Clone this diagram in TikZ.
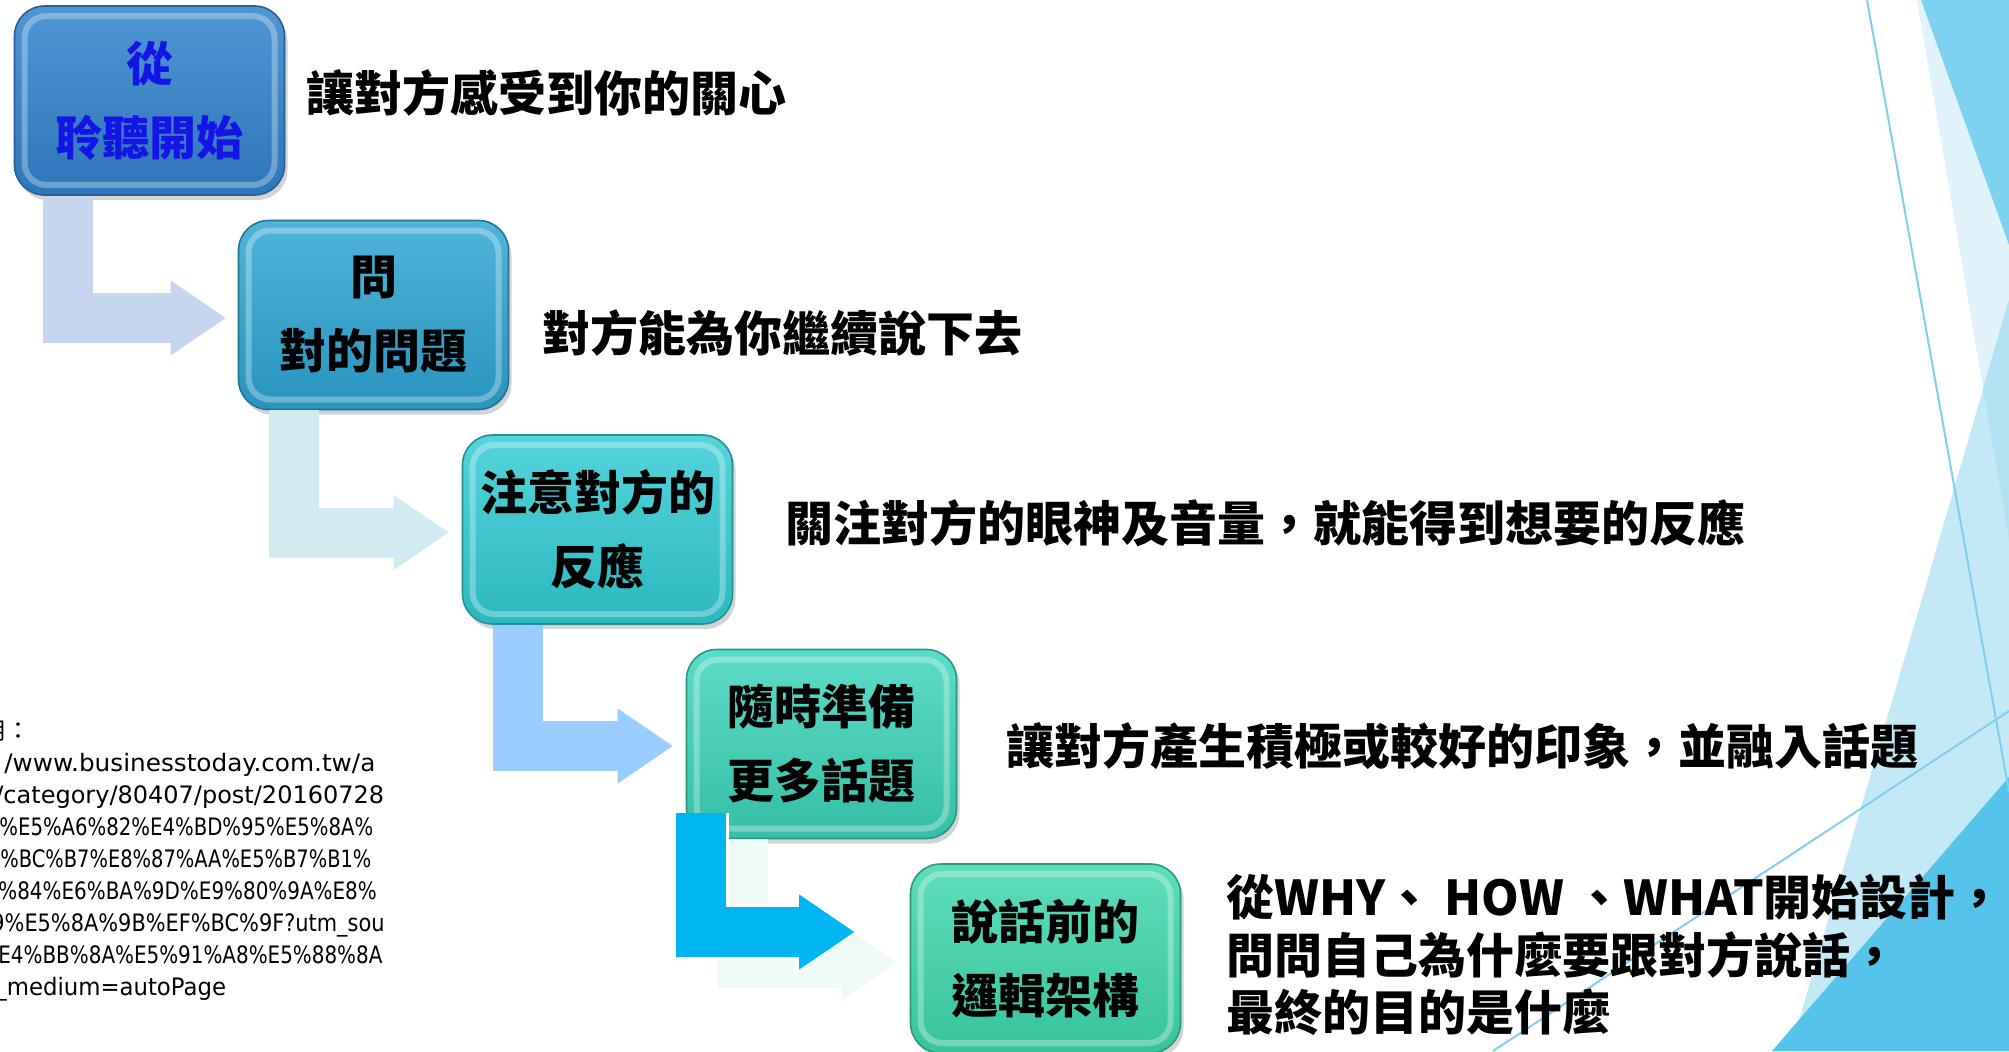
\documentclass[tikz,border=0pt]{standalone}
\usepackage{graphicx}
\usepackage{fontspec}
\setmainfont{Noto Sans CJK TC}
\newfontfamily\urlfont{DejaVu Sans}
\usetikzlibrary{arrows.meta, positioning, shadows}

\definecolor{boneTop}{RGB}{80,150,212}
\definecolor{boneBot}{RGB}{46,118,186}
\definecolor{boneEdge}{RGB}{40,95,150}
\definecolor{btwoTop}{RGB}{80,180,216}
\definecolor{btwoBot}{RGB}{40,148,190}
\definecolor{btwoEdge}{RGB}{35,115,150}
\definecolor{bthreeTop}{RGB}{84,212,220}
\definecolor{bthreeBot}{RGB}{44,184,192}
\definecolor{bthreeEdge}{RGB}{35,145,150}
\definecolor{bfourTop}{RGB}{92,220,200}
\definecolor{bfourBot}{RGB}{54,190,166}
\definecolor{bfourEdge}{RGB}{40,150,130}
\definecolor{bfiveTop}{RGB}{94,222,188}
\definecolor{bfiveBot}{RGB}{56,196,154}
\definecolor{bfiveEdge}{RGB}{40,155,120}
\definecolor{titleBlue}{RGB}{20,20,230}
\definecolor{arrowA}{RGB}{198,214,238}
\definecolor{arrowB}{RGB}{210,234,242}
\definecolor{arrowC}{RGB}{153,204,255}
\definecolor{arrowD}{RGB}{0,182,242}
\definecolor{arrowGhost}{RGB}{238,250,245}
\definecolor{decoLight}{RGB}{224,242,250}
\definecolor{decoDark}{RGB}{125,211,239}
\definecolor{decoMid}{RGB}{195,233,247}
\definecolor{decoMix}{RGB}{176,226,243}
\definecolor{decoDeep}{RGB}{86,195,234}
\definecolor{decoLine}{RGB}{127,208,238}

\tikzstyle{stepbox} = [rectangle, rounded corners=15pt, minimum width=135pt, minimum height=94.5pt, align=center, inner sep=0pt, line width=0.8pt, font=\bfseries\fontsize{23.5pt}{37pt}\selectfont, drop shadow={opacity=0.35, shadow xshift=1.5pt, shadow yshift=-2.5pt}, path picture={\draw[white, opacity=0.3, line width=3pt, rounded corners=11pt] ([shift={(5pt,-5pt)}]path picture bounding box.north west) rectangle ([shift={(-5pt,5pt)}]path picture bounding box.south east);}]
\tikzstyle{note} = [anchor=west, inner sep=0pt, font=\bfseries\fontsize{24pt}{28.75pt}\selectfont]
\tikzstyle{srcline} = [anchor=base west, inner sep=0pt, font=\urlfont\fontsize{12pt}{16pt}\selectfont]
\tikzstyle{linkarrow} = [line width=25pt, -{Triangle[width=37.5pt, length=27.5pt, line width=0pt]}]
\tikzstyle{decoline} = [draw=decoLine, line width=1pt]

\begin{document}
\begin{tikzpicture}[x=0.5pt, y=-0.5pt, node distance=107.25pt]
\useasboundingbox (0,0) rectangle (2009,1051);
\clip (0,0) rectangle (2009,1051);
% slide background
\fill[decoLight] (1917,0) -- (2009,0) -- (2009,540) -- cycle;
\fill[decoDark] (1921,0) -- (2009,0) -- (2009,245) -- cycle;
\fill[decoMid] (2009,300) -- (1790,1051) -- (2009,1051) -- cycle;
\fill[decoMix] (2009,300) -- (1983,388) -- (2009,540) -- cycle;
\fill[decoDeep] (1772,1051) -- (2009,777) -- (2009,1051) -- cycle;
\draw[decoline] (1867,0) -- (2009,792);
\draw[decoline] (1493,1051) -- (2009,711);

% steps
\node (b1) [stepbox, top color=boneTop, bottom color=boneBot, draw=boneEdge, text=titleBlue] at (149.5,100.5) {從\\聆聽開始};
\node (b2) [stepbox, top color=btwoTop, bottom color=btwoBot, draw=btwoEdge, below of=b1, xshift=112pt] {問\\對的問題};
\node (b3) [stepbox, top color=bthreeTop, bottom color=bthreeBot, draw=bthreeEdge, below of=b2, xshift=112pt] {注意對方的\\反應};
\node (b4) [stepbox, top color=bfourTop, bottom color=bfourBot, draw=bfourEdge, below of=b3, xshift=112pt] {隨時準備\\更多話題};
\node (b5) [stepbox, top color=bfiveTop, bottom color=bfiveBot, draw=bfiveEdge, below of=b4, xshift=112pt] {說話前的\\邏輯架構};

% connectors
\draw [linkarrow, arrowA] ([xshift=27pt]b1.south west) |- ([xshift=-6pt, yshift=-1.5pt]b2.west);
\draw [linkarrow, arrowB] ([xshift=28pt]b2.south west) |- ([xshift=-6.5pt, yshift=-1.5pt]b3.west);
\draw [linkarrow, arrowC] ([xshift=28pt]b3.south west) |- ([xshift=-6.5pt, yshift=-1pt]b4.west);
\draw [linkarrow, arrowGhost] ([xshift=28.5pt]b4.south west) |- ([xshift=-6.5pt, yshift=-2pt]b5.west);
\draw [linkarrow, arrowD, preaction={draw=white, line width=28pt, -{Triangle[width=42pt, length=30pt, line width=0pt]}}] ([xshift=7.75pt, yshift=13pt]b4.south west) |- ([xshift=-27.75pt, yshift=13.25pt]b5.west);

% notes
\node (t1) [note] at (306,93) {讓對方感受到你的關心};
\node (t2) [note] at (542,333) {對方能為你繼續說下去};
\node (t3) [note] at (785,523) {關注對方的眼神及音量，就能得到想要的反應};
\node (t4) [note] at (1006,746) {讓對方產生積極或較好的印象，並融入話題};
\node (t5) [note, align=left] at (1226,955) {從WHY、 HOW 、WHAT開始設計，\\問問自己為什麼要跟對方說話，\\最終的目的是什麼};

% source
\node (u1) [srcline, font=\normalfont\fontsize{12pt}{16pt}\selectfont] at (-18,739) {用：};
\node (u2) [srcline] at (4,771) {\scalebox{1.03}[1]{/www.businesstoday.com.tw/a}};
\node (u3) [srcline] at (-5,803) {/category/80407/post/20160728};
\node (u4) [srcline] at (-1,835) {\scalebox{0.82}[1]{\%E5\%A6\%82\%E4\%BD\%95\%E5\%8A\%}};
\node (u5) [srcline] at (0,867) {\scalebox{0.81}[1]{\%BC\%B7\%E8\%87\%AA\%E5\%B7\%B1\%}};
\node (u6) [srcline] at (-2,899) {\scalebox{0.83}[1]{\%84\%E6\%BA\%9D\%E9\%80\%9A\%E8\%}};
\node (u7) [srcline] at (-9,931) {\scalebox{0.87}[1]{9\%E5\%8A\%9B\%EF\%BC\%9F?utm\_sou}};
\node (u8) [srcline] at (-2,963) {\scalebox{0.83}[1]{E4\%BB\%8A\%E5\%91\%A8\%E5\%88\%8A}};
\node (u9) [srcline] at (-5,995) {\scalebox{0.95}[1]{\_medium=autoPage}};
\end{tikzpicture}
\end{document}
